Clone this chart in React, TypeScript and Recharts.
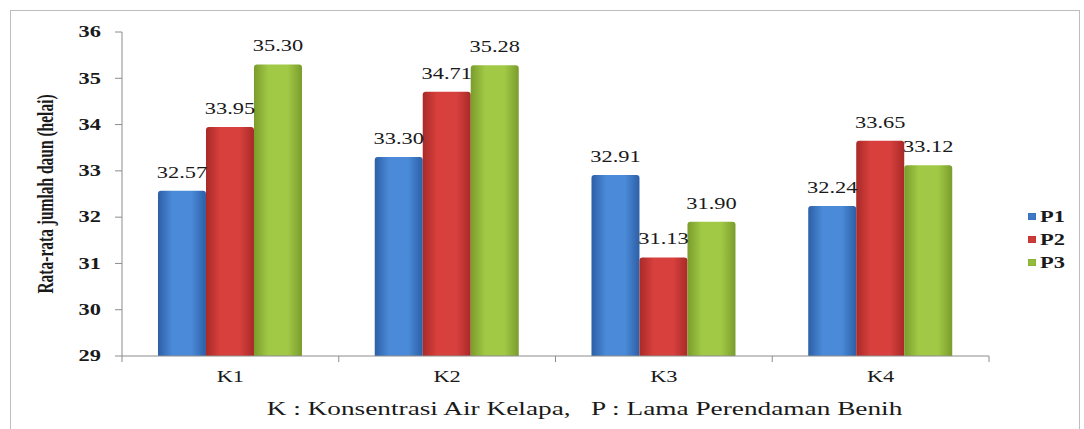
import React from "react";
import { BarChart, Bar, XAxis, YAxis, Legend, LabelList } from "recharts";

const categories = ["K1", "K2", "K3", "K4"];
const p1Values = [32.57, 33.3, 32.91, 32.24];
const p2Values = [33.95, 34.71, 31.13, 33.65];
const p3Values = [35.3, 35.28, 31.9, 33.12];
const yTicks = [29, 30, 31, 32, 33, 34, 35, 36];
const seriesNames = ["P1", "P2", "P3"];
const yTitle = "Rata-rata jumlah daun (helai)";
const xTitle = "K : Konsentrasi Air Kelapa,   P : Lama Perendaman Benih";

const data = categories.map((k, i) => ({ name: k, P1: p1Values[i], P2: p2Values[i], P3: p3Values[i] }));

const FONT = "'Liberation Serif', 'DejaVu Serif', serif";
const SX = 1.4;
const INK = "#1a1a1a";
const AXIS = "#8c8c8c";

const legendColors: Record<string, string> = { P1: "#3f78c6", P2: "#cc3b38", P3: "#93bb3c" };

function SText(props: any) {
  const { x, y, anchor = "middle", size = 16, weight = "normal", rotate = false, baseline, sx = SX, children } = props;
  const t = rotate
    ? `translate(${x},${y}) scale(${sx},1) rotate(-90)`
    : `translate(${x},${y}) scale(${sx},1)`;
  return (
    <text
      transform={t}
      x={0}
      y={0}
      textAnchor={anchor}
      dominantBaseline={baseline}
      fontSize={size}
      fontWeight={weight}
      fontFamily={FONT}
      fill={INK}
      style={{ whiteSpace: "pre" }}
    >
      {children}
    </text>
  );
}

const grad = (id: string, edge: string, mid: string) => (
  <linearGradient id={id} x1="0" y1="0" x2="1" y2="0">
    <stop offset="0%" stopColor={edge} />
    <stop offset="30%" stopColor={mid} />
    <stop offset="70%" stopColor={mid} />
    <stop offset="100%" stopColor={edge} />
  </linearGradient>
);

const YTick = (p: any) => (
  <SText x={p.x} y={p.y} anchor="end" size={16} weight="bold" baseline="central">
    {p.payload.value}
  </SText>
);

const XTick = (p: any) => {
  const half = p.payload && p.payload.offset ? p.payload.offset : 0;
  const last = p.index === p.visibleTicksCount - 1;
  return (
    <g>
      <line x1={p.x - half} x2={p.x - half} y1={p.y} y2={p.y + 6} stroke={AXIS} />
      {last && <line x1={p.x + half} x2={p.x + half} y1={p.y} y2={p.y + 6} stroke={AXIS} />}
      <SText x={p.x} y={p.y + 26} anchor="middle" size={16}>
        {p.payload.value}
      </SText>
    </g>
  );
};

const valueLabel = (p: any) => {
  const vb = p.viewBox && p.viewBox.width !== undefined ? p.viewBox : p;
  const x = vb.x + vb.width / 2;
  const y = vb.y;
  return (
    <SText x={x} y={y - 13} anchor="middle" size={16}>
      {Number(p.value).toFixed(2)}
    </SText>
  );
};

const LegendContent = (p: any) => (
  <div style={{ fontFamily: FONT, fontWeight: "bold", fontSize: 16, color: INK }}>
    {(p.payload || []).map((e: any) => (
      <div key={e.value} style={{ height: 23, display: "flex", alignItems: "center" }}>
        <span style={{ display: "inline-block", width: 8, height: 7, background: legendColors[e.value], marginRight: 4, boxShadow: "inset 0 0 1px rgba(0,0,0,0.4)" }} />
        <span style={{ display: "inline-block", transform: `scaleX(${SX})`, transformOrigin: "left center" }}>{e.value}</span>
      </div>
    ))}
  </div>
);

export default function App() {
  return (
    <div style={{ position: "absolute", left: 0, top: 0, width: 1084, height: 429, background: "#fff", overflow: "hidden", fontFamily: FONT }}>
      <div style={{ position: "absolute", left: 10, top: 10, width: 1068, height: 440, border: "1px solid #bdbdbd" }} />
      <BarChart
        width={1084}
        height={429}
        data={data}
        margin={{ top: 32, right: 95, left: 0, bottom: 43 }}
        barCategoryGap="16.6%"
        barGap={0}
      >
        <defs>
          {grad("gP1", "#2d5fa6", "#4a8ad8")}
          {grad("gP2", "#a82a28", "#d8403d")}
          {grad("gP3", "#7a9c2c", "#a2c945")}
        </defs>
        <XAxis
          dataKey="name"
          height={30}
          tickLine={false}
          tickSize={0}
          tickMargin={0}
          interval={0}
          axisLine={{ stroke: AXIS }}
          tick={<XTick />}
          label={{
            content: (p: any) => {
              const vb = p.viewBox;
              return (
                <SText x={vb.x + vb.width / 2 + 29} y={vb.y + 59} anchor="middle" size={19.5}>
                  {xTitle}
                </SText>
              );
            },
          }}
        />
        <YAxis
          domain={[29, 36]}
          ticks={yTicks}
          width={122}
          interval={0}
          axisLine={{ stroke: AXIS }}
          tickLine={{ stroke: AXIS }}
          tickSize={7}
          tickMargin={14}
          tick={<YTick />}
          label={{
            content: (p: any) => {
              const vb = p.viewBox;
              return (
                <SText x={45} y={vb.y + vb.height / 2} anchor="middle" size={15.5} weight="bold" rotate baseline="central" sx={1.55}>
                  {yTitle}
                </SText>
              );
            },
          }}
        />
        <Legend
          layout="vertical"
          align="center"
          verticalAlign="middle"
          content={<LegendContent />}
          wrapperStyle={{ left: 1028, top: 205, width: "auto" }}
        />
        {seriesNames.map((s) => (
          <Bar key={s} dataKey={s} name={s} fill={`url(#g${s})`} radius={[3, 3, 0, 0]} isAnimationActive={false}>
            <LabelList dataKey={s} content={valueLabel} />
          </Bar>
        ))}
      </BarChart>
    </div>
  );
}
